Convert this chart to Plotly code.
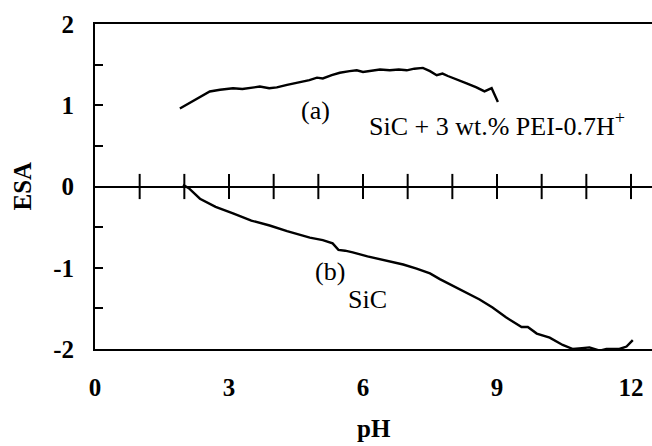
import plotly.graph_objects as go

# Electrokinetic sonic amplitude (ESA) vs pH
ph_a = [1.90, 2.10, 2.35, 2.57, 2.80, 3.09, 3.30, 3.50, 3.69, 3.90, 4.07, 4.30, 4.59,
        4.80, 4.97, 5.10, 5.30, 5.48, 5.70, 5.86, 6.00, 6.20, 6.38, 6.60, 6.80, 6.98,
        7.15, 7.34, 7.50, 7.65, 7.78, 7.90, 8.10, 8.32, 8.54, 8.72, 8.88, 9.02]
esa_a = [0.96, 1.02, 1.10, 1.17, 1.19, 1.21, 1.20, 1.22, 1.23, 1.21, 1.22, 1.25, 1.28,
         1.31, 1.34, 1.33, 1.37, 1.40, 1.42, 1.43, 1.41, 1.43, 1.44, 1.43, 1.44, 1.43,
         1.45, 1.46, 1.42, 1.37, 1.39, 1.36, 1.32, 1.27, 1.22, 1.17, 1.21, 1.04]

ph_b = [1.97, 2.10, 2.35, 2.70, 3.09, 3.50, 3.91, 4.30, 4.81, 5.10, 5.32, 5.45, 5.60,
        5.77, 6.10, 6.53, 6.90, 7.20, 7.50, 7.72, 8.10, 8.40, 8.61, 8.90, 9.20, 9.55,
        9.69, 9.89, 10.18, 10.47, 10.70, 10.90, 11.07, 11.30, 11.45, 11.74, 11.90, 12.04]
esa_b = [0.02, -0.02, -0.15, -0.25, -0.33, -0.42, -0.48, -0.55, -0.63, -0.66, -0.70, -0.78, -0.79,
         -0.81, -0.86, -0.91, -0.96, -1.01, -1.07, -1.14, -1.25, -1.33, -1.39, -1.49, -1.61, -1.73,
         -1.73, -1.81, -1.86, -1.95, -2.00, -1.99, -1.98, -2.02, -2.00, -2.00, -1.97, -1.89]

x_label_vals = [0, 3, 6, 9, 12]
zero_tick_vals = list(range(1, 13))
y_label_vals = [-2, -1, 0, 1, 2]
y_label_text = ["-2", "-1", "0", "1", "2"]
y_minor_vals = [-1.5, -0.5, 0.5, 1.5]

SERIF = "Liberation Serif, Times New Roman, serif"

fig = go.Figure()

# crossing tick marks along the ESA = 0 line
fig.add_trace(go.Scatter(
    x=zero_tick_vals, y=[0] * len(zero_tick_vals), mode="markers",
    marker=dict(symbol="line-ns", size=18, line=dict(width=2, color="black")),
    hoverinfo="skip", showlegend=False))

fig.add_trace(go.Scatter(x=ph_a, y=esa_a, mode="lines",
                         line=dict(color="black", width=2.4), showlegend=False))
fig.add_trace(go.Scatter(x=ph_b, y=esa_b, mode="lines",
                         line=dict(color="black", width=2.4), showlegend=False))

fig.update_layout(
    width=652, height=446,
    margin=dict(l=95, r=0, t=24, b=97),
    paper_bgcolor="white", plot_bgcolor="white",
    font=dict(family=SERIF, color="black"),
    xaxis=dict(
        range=[0, 12.47], showgrid=False, zeroline=False,
        showline=True, linewidth=2, linecolor="black", mirror=True,
        tickmode="array", tickvals=x_label_vals,
        ticks="outside", ticklen=15, tickcolor="rgba(0,0,0,0)",
        tickfont=dict(family=SERIF, size=25, weight="bold"),
    ),
    yaxis=dict(
        range=[-2, 2], showgrid=False,
        zeroline=True, zerolinewidth=2, zerolinecolor="black",
        showline=True, linewidth=2, linecolor="black",
        tickmode="array", tickvals=y_label_vals, ticktext=y_label_text,
        ticks="inside", ticklen=8, tickwidth=2, tickcolor="black",
        minor=dict(tickmode="array", tickvals=y_minor_vals, ticks="inside",
                   ticklen=8, tickwidth=2, tickcolor="black", showgrid=False),
        ticklabelstandoff=14,
        tickfont=dict(family=SERIF, size=25, weight="bold"),
    ),
    annotations=[
        dict(text="ESA", xref="paper", yref="paper", x=-0.131, y=0.5,
             xanchor="center", yanchor="middle",
             textangle=-90, showarrow=False,
             font=dict(family=SERIF, size=25, weight="bold")),
        dict(text="pH", xref="paper", yref="paper", x=0.5, y=-0.245,
             xanchor="center", yanchor="middle",
             showarrow=False, font=dict(family=SERIF, size=25, weight="bold")),
        dict(text="(a)", x=4.94, y=0.93, showarrow=False,
             font=dict(family=SERIF, size=26)),
        dict(text="SiC + 3 wt.% PEI-0.7H<sup>+</sup>", x=6.08, y=0.76,
             xanchor="left", showarrow=False, font=dict(family=SERIF, size=26)),
        dict(text="(b)", x=5.26, y=-1.05, showarrow=False,
             font=dict(family=SERIF, size=26)),
        dict(text="SiC", x=6.1, y=-1.39, showarrow=False,
             font=dict(family=SERIF, size=26)),
    ],
)

fig.write_html("out.html")
